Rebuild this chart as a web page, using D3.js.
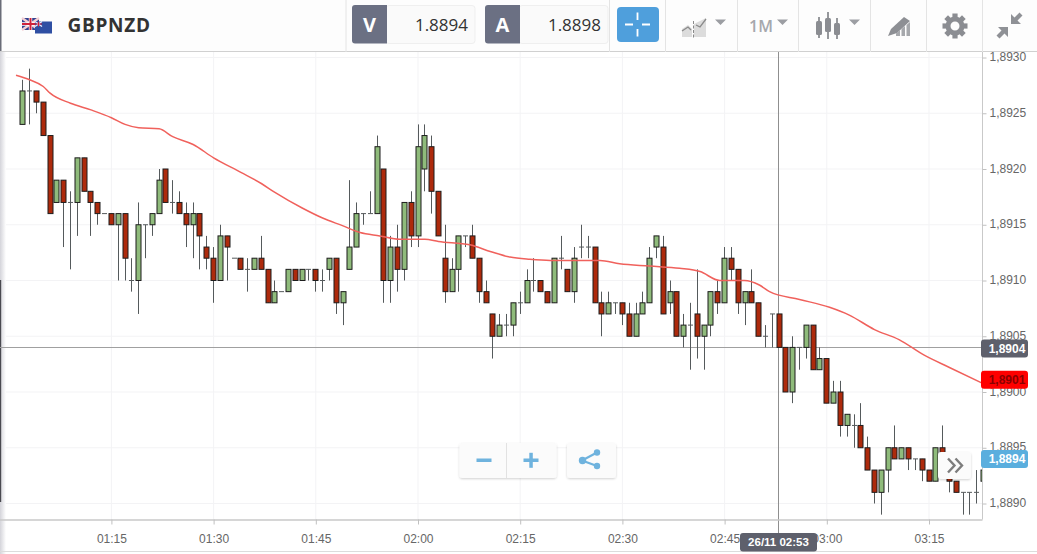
<!DOCTYPE html>
<html><head><meta charset="utf-8">
<script src="https://cdn.jsdelivr.net/npm/d3@7"></script>
<style>html,body{margin:0;padding:0;background:#fff;overflow:hidden}svg{display:block}</style>
</head><body><svg id="c" width="1037" height="554"></svg>
<script>
const symbol="GBPNZD";
const bidText="1.8894", askText="1.8898";
const basePrice=1.8890;
const firstMinute=62; // 01:02
// candles, in pips above basePrice
const opens=[34,37,37,36,33,27,29,27,27,31,28,27,26,26,25,26,20,20,25,25,26,30,27,27,26,25,26,23,22,20,24,22,22,21,21,22,21,18,19,19,21,20,21,21,20,21,22,18,21,23,26,26,26,30,20,23,21,27,24,30,32,28,22,19,21,24,24,22,19,17,15,16,16,18,18,20,20,19,18,22,21,19,23,23,23,18,17,18,18,17,15,17,18,23,23,18,19,15,16,17,15,16,19,18,22,21,18,19,18,15,17,17,14,10,14,14,16,12,13,9,10,7,7,7,5,3,1,3,5,4,5,4,4,3,2,5,4,2,1,1,1,2];
const highs=[38,39,37,36,33,29,29,28,31,31,28,27,26,26,26,26,22,27,25,26,30,30,29,28,27,27,26,24,23,25,24,22,22,22,22,24,21,20,19,21,21,21,21,21,21,22,22,19,29,27,26,28,33,30,24,25,27,28,34,34,33,28,25,22,24,24,25,22,20,17,17,17,18,19,21,22,20,19,22,24,21,23,25,24,23,19,19,18,18,18,18,19,23,24,24,20,19,17,18,21,16,19,20,23,23,21,19,21,18,16,17,17,14,15,14,16,16,14,13,11,11,8,8,9,6,3,3,5,7,5,5,4,4,3,5,7,4,2,1,1,3,3];
const lows=[34,34,35,33,26,27,23,21,24,28,24,25,26,25,20,20,19,17,22,24,26,27,26,26,23,22,21,21,18,20,20,22,21,19,21,21,18,18,19,19,20,20,20,19,19,20,17,16,21,23,25,26,26,18,18,19,20,23,23,28,26,24,18,19,19,23,22,18,18,13,15,15,15,17,18,19,19,18,18,21,19,18,22,22,18,15,17,17,16,15,15,17,18,22,17,17,15,14,12,13,12,15,17,18,20,17,16,18,15,14,14,14,10,9,12,13,12,12,9,9,6,6,5,5,3,0,-1,1,4,4,3,3,2,2,2,4,1,1,-1,-1,0,2];
const closes=[37,37,36,33,26,29,27,27,31,28,27,26,26,25,26,22,20,25,25,26,29,27,27,26,25,26,24,22,20,24,23,22,21,21,22,21,18,19,19,21,20,21,21,20,20,22,18,19,23,26,26,26,32,20,23,21,27,24,32,33,28,24,19,21,24,24,22,19,18,15,16,16,18,18,20,20,19,18,22,22,19,22,23,23,18,17,18,18,17,15,17,18,22,24,17,19,15,16,16,15,16,19,18,22,21,18,19,18,15,15,17,14,10,14,14,16,12,13,9,10,7,8,7,5,3,1,3,5,4,5,4,4,3,2,5,4,2,1,1,1,1,3];
// moving-average line
const maMinutes=[61,63,65,66,69,72,75,77,79,82,84,87,90,94,97,99,103,106,109,111.5,114.4,117.3,121,123,127.6,130.6,133.5,136.4,139.4,143.8,146.7,149.6,154,158.4,161.4,164.3,167.9,170.1,171.6,176,180.4,183.3,187,190.6,194.3,198,202.8];
const maPrices=[1.89284,1.89280,1.89274,1.89268,1.89259,1.89253,1.89246,1.89240,1.89237,1.89236,1.89229,1.89222,1.89210,1.89197,1.89187,1.89179,1.89165,1.89156,1.89149,1.89143,1.89140,1.89137,1.89137,1.89135,1.89132,1.89126,1.89121,1.89119,1.89118,1.89118,1.89118,1.89115,1.89113,1.89111,1.89108,1.89100,1.89100,1.89096,1.89090,1.89083,1.89076,1.89069,1.89056,1.89047,1.89033,1.89022,1.89008];
const xTickMinutes=[75,90,105,120,135,150,165,180,195];
const xTickLabels=["01:15","01:30","01:45","02:00","02:15","02:30","02:45","03:00","03:15"];
const yTicks=[1.8890,1.8895,1.8900,1.8905,1.8910,1.8915,1.8920,1.8925,1.8930];
const crossMinute=173, crossPrice=1.89040;
const priceFlags=[{v:"1,8904",p:1.89039,c:"#5e606c",t:"#fff"},{v:"1,8901",p:1.89011,c:"#ff0000",t:"#8a0000"},{v:"1,8894",p:1.88940,c:"#5aaede",t:"#fff"}];
const crossLabel="26/11 02:53";

const svg=d3.select("#c");
const plotL=1,plotR=982.5,plotT=52,plotB=519.5;
const x=d3.scaleLinear().domain([75,195]).range([111.4,929]);
const y=d3.scaleLinear().domain([1.8890,1.8930]).range([503.5,57.5]);
const pips=p=>basePrice+p*0.0001;
const sans="'Liberation Sans',Arial,sans-serif", open="'Open Sans',sans-serif";

svg.append("rect").attr("width",1037).attr("height",554).attr("fill","#fff");
const defs=svg.append("defs");
defs.append("clipPath").attr("id","plot").append("rect").attr("x",plotL).attr("y",plotT).attr("width",plotR-plotL).attr("height",plotB-plotT);
const sh=defs.append("filter").attr("id","sh").attr("x","-20%").attr("y","-20%").attr("width","140%").attr("height","150%");
sh.append("feDropShadow").attr("dx",0).attr("dy",1).attr("stdDeviation",1).attr("flood-color","#000").attr("flood-opacity",.18);
const lg=defs.append("linearGradient").attr("id","edge");
lg.append("stop").attr("offset",0).attr("stop-color","#d4d4da");
lg.append("stop").attr("offset",1).attr("stop-color","#fff");

// grid
svg.append("g").selectAll("line").data(xTickMinutes).join("line")
 .attr("x1",d=>x(d)).attr("x2",d=>x(d)).attr("y1",plotT).attr("y2",plotB).attr("stroke","#f3f3f5");
svg.append("g").selectAll("line").data(yTicks).join("line")
 .attr("x1",plotL).attr("x2",plotR).attr("y1",d=>y(d)).attr("y2",d=>y(d)).attr("stroke","#f3f3f5");

// left window edge
svg.append("rect").attr("x",0).attr("y",52).attr("width",6).attr("height",502).attr("fill","url(#edge)");
svg.append("rect").attr("x",0).attr("y",280).attr("width",1.2).attr("height",222).attr("fill","#4a4a50");

// crosshair
const crossX=Math.floor(x(crossMinute))-.5, crossY=Math.floor(y(crossPrice))+.5;
svg.append("line").attr("x1",0).attr("x2",plotR).attr("y1",crossY).attr("y2",crossY).attr("stroke","#a0a0a0");
svg.append("line").attr("x1",crossX).attr("x2",crossX).attr("y1",plotT).attr("y2",plotB+14).attr("stroke","#8f8f8f");

// candles
const plot=svg.append("g").attr("clip-path","url(#plot)");
const idx=d3.range(opens.length);
const cx=i=>Math.floor(x(firstMinute+i))+.5;
plot.append("g").selectAll("line").data(idx).join("line")
 .attr("x1",cx).attr("x2",cx).attr("y1",i=>y(pips(highs[i]))).attr("y2",i=>y(pips(lows[i])))
 .attr("stroke","#555a5c").attr("stroke-width",1);
const bodies=idx.filter(i=>opens[i]!==closes[i]);
plot.append("g").selectAll("rect").data(bodies).join("rect")
 .attr("x",i=>cx(i)-2.5).attr("width",5)
 .attr("y",i=>y(pips(Math.max(opens[i],closes[i]))))
 .attr("height",i=>Math.abs(y(pips(opens[i]))-y(pips(closes[i]))))
 .attr("fill",i=>closes[i]>opens[i]?"#8fbb7b":"#ad2a0c")
 .attr("stroke","#1d1d1d").attr("stroke-width",1);
const dojis=idx.filter(i=>opens[i]===closes[i]);
plot.append("g").selectAll("line").data(dojis).join("line")
 .attr("x1",i=>cx(i)-2.5).attr("x2",i=>cx(i)+2.5)
 .attr("y1",i=>y(pips(opens[i]))).attr("y2",i=>y(pips(opens[i])))
 .attr("stroke","#555a5c");

// moving average
plot.append("path").datum(maMinutes)
 .attr("fill","none").attr("stroke","#f0615c").attr("stroke-width",1.5)
 .attr("d",d3.line().x(d=>x(d)).y((d,i)=>y(maPrices[i])).curve(d3.curveMonotoneX));

// axes
svg.append("line").attr("x1",plotR).attr("x2",plotR).attr("y1",plotT).attr("y2",plotB).attr("stroke","#c9c9c9");
svg.append("line").attr("x1",0).attr("x2",plotR).attr("y1",plotB+.5).attr("y2",plotB+.5).attr("stroke","#c9c9c9").attr("stroke-width",1.5);
const yg=svg.append("g").attr("transform",`translate(${plotR},0)`)
 .call(d3.axisRight(y).tickValues(yTicks).tickSize(4).tickPadding(3).tickFormat(d=>d3.format(".4f")(d).replace(".",",")));
yg.select(".domain").remove();
yg.selectAll("line").attr("stroke","#c0c0c0");
yg.selectAll("text").attr("font-family",sans).attr("font-size",12).attr("fill","#666").attr("dy","0.26em");
const xg=svg.append("g").attr("transform",`translate(0,${plotB})`)
 .call(d3.axisBottom(x).tickValues(xTickMinutes).tickSize(5).tickPadding(10).tickFormat((d,i)=>xTickLabels[i]));
xg.select(".domain").remove();
xg.selectAll("line").attr("stroke","#c0c0c0");
xg.selectAll("text").attr("font-family",sans).attr("font-size",12).attr("fill","#666");
svg.append("line").attr("x1",0).attr("x2",1037).attr("y1",551.5).attr("y2",551.5).attr("stroke","#dcdcdc");

// price flags
const fl=svg.append("g").selectAll("g").data(priceFlags).join("g");
fl.append("rect").attr("x",981).attr("width",47).attr("height",18).attr("rx",3)
 .attr("y",d=>y(d.p)-9).attr("fill",d=>d.c);
fl.append("text").attr("x",1007).attr("y",d=>y(d.p)+4.5).attr("text-anchor","middle")
 .attr("font-family",sans).attr("font-size",12).attr("font-weight","bold").attr("fill",d=>d.t).text(d=>d.v);
// crosshair time label
svg.append("rect").attr("x",740).attr("y",533).attr("width",77).attr("height",18.5).attr("rx",3).attr("fill","#5e606c");
svg.append("text").attr("x",778.5).attr("y",546).attr("text-anchor","middle").attr("font-family",sans).attr("font-size",11.5).attr("font-weight","bold").attr("fill","#fff").text(crossLabel);

// floating controls
const btn=(X,Y,W,H)=>svg.append("rect").attr("x",X).attr("y",Y).attr("width",W).attr("height",H).attr("rx",3).attr("fill","#fbfbfb").attr("filter","url(#sh)");
btn(459.5,443,97,35);
svg.append("line").attr("x1",506.5).attr("x2",506.5).attr("y1",443).attr("y2",478).attr("stroke","#e2e2e2");
const blue="#6fb3de";
svg.append("rect").attr("x",476.5).attr("y",458.5).attr("width",15).attr("height",3.5).attr("fill",blue);
svg.append("rect").attr("x",523.5).attr("y",458.5).attr("width",15).attr("height",3.5).attr("fill",blue);
svg.append("rect").attr("x",529.3).attr("y",452.8).attr("width",3.5).attr("height",15).attr("fill",blue);
btn(567,443,49,35);
svg.append("path").attr("d","M582 460.5L597 452.5M582 460.5L597 466").attr("stroke",blue).attr("stroke-width",2.2);
[[582.5,460.5,3.7],[597,452.5,3.2],[597,466,3.2]].forEach(c=>svg.append("circle").attr("cx",c[0]).attr("cy",c[1]).attr("r",c[2]).attr("fill",blue));
btn(938,452,33,27);
svg.append("path").attr("d","M948 458.5L954.5 465.5L948 472.5M955.5 458.5L962 465.5L955.5 472.5").attr("fill","none").attr("stroke","#7d7d7d").attr("stroke-width",2.4);

// toolbar
const tb=svg.append("g");
tb.append("rect").attr("width",1037).attr("height",51).attr("fill","#fdfdfd");
tb.append("line").attr("x1",0).attr("x2",1037).attr("y1",51.5).attr("y2",51.5).attr("stroke","#d0d0d0");
tb.append("rect").attr("width",1.5).attr("height",51).attr("fill","#6a6d78");
[345.5,609,665,737,798,870,926,982].forEach(X=>tb.append("line").attr("x1",X+.5).attr("x2",X+.5).attr("y1",0).attr("y2",52).attr("stroke","#e4e4e4"));
// flags
tb.append("rect").attr("x",22).attr("y",18).attr("width",17).attr("height",12).attr("fill","#33418f");
tb.append("path").attr("d","M22 18L39 30M39 18L22 30").attr("stroke","#f4d0d4").attr("stroke-width",2.4);
tb.append("path").attr("d","M30.5 18V30M22 24H39").attr("stroke","#fff").attr("stroke-width",3.4);
tb.append("path").attr("d","M30.5 18V30M22 24H39").attr("stroke","#d0213a").attr("stroke-width",2);
tb.append("rect").attr("x",35).attr("y",21.5).attr("width",17).attr("height",12).attr("fill","#2f4fa3");
tb.append("path").attr("d","M35 21.5L42 26.5M42 21.5L35 26.5").attr("stroke","#eef").attr("stroke-width",1.4);
tb.append("path").attr("d","M38.5 21.5V26.5M35 24H42").attr("stroke","#d0213a").attr("stroke-width",1);
tb.append("text").attr("x",67.5).attr("y",31.5).attr("font-family",open).attr("font-weight",700).attr("font-size",19).attr("letter-spacing",.7).attr("fill","#333").text(symbol);
// quote boxes
const quote=(X,l,v,e)=>{
 tb.append("rect").attr("x",X+34).attr("y",5.5).attr("width",e-X-34).attr("height",38).attr("rx",3).attr("fill","#fafafa").attr("stroke","#efefef");
 tb.append("path").attr("d",`M${X+3} 5H${X+35}V43.5H${X+3}a3 3 0 0 1 -3 -3V8a3 3 0 0 1 3 -3z`).attr("fill","#6b7083");
 tb.append("text").attr("x",X+17.5).attr("y",31.5).attr("text-anchor","middle").attr("font-family",open).attr("font-weight",700).attr("font-size",20).attr("fill","#fff").text(l);
 tb.append("text").attr("x",e-7).attr("y",31).attr("text-anchor","end").attr("font-family",open).attr("font-size",17).attr("fill","#333").text(v);
};
quote(352,"V",bidText,475);
quote(485,"A",askText,608);
// crosshair button
tb.append("rect").attr("x",617).attr("y",7).attr("width",42).attr("height",35).attr("rx",4).attr("fill","#4f9fdc");
tb.append("path").attr("d","M637.5 12.5V20M637.5 29V36.5M625 24.5H633M642 24.5H650").attr("stroke","#fff").attr("stroke-width",1.8);
// chart-type icons
const g2="#8b8d92";
tb.append("path").attr("d","M682 37V29L688 25L692 29V37ZM694 37V24L706 18V37Z").attr("fill","#dcdcdc");
tb.append("path").attr("d","M682 31L688 27L691 30M696 25L700 27L706 19").attr("fill","none").attr("stroke","#8a8a8a").attr("stroke-width",1.3);
tb.append("line").attr("x1",693.5).attr("x2",693.5).attr("y1",21).attr("y2",38).attr("stroke","#8a8a8a").attr("stroke-dasharray","3 1.5");
tb.append("path").attr("d","M715 19.5H726L720.5 25ZM777 19.5H788L782.5 25ZM849 19.5H860L854.5 25Z").attr("fill","#9c9ea3");
tb.append("text").attr("x",749).attr("y",32).attr("font-family",open).attr("font-weight",600).attr("font-size",16).attr("fill","#a6a8ad").text("1M");
[[819,17,38,21,35],[828,12,39,18,32],[837,18,39,23,35]].forEach(a=>{
 tb.append("rect").attr("x",a[0]-.9).attr("y",a[1]).attr("width",1.8).attr("height",a[2]-a[1]).attr("fill",g2);
 tb.append("rect").attr("x",a[0]-3).attr("y",a[3]).attr("width",6).attr("height",a[4]-a[3]).attr("rx",1.5).attr("fill",g2);
});
tb.append("path").attr("d","M888 36L891 29L904 17L910 21L897 33Z").attr("fill","#8d8f94");
tb.append("path").attr("d","M896 36V33.5L900 30V36ZM901.5 36V29L905 26V36ZM906.5 36V25L910 22V36Z").attr("fill","#a6a8ac");
// gear
const gear=tb.append("g").attr("transform","translate(955,26)");
d3.range(8).forEach(i=>gear.append("rect").attr("x",-2.6).attr("y",-12.5).attr("width",5.2).attr("height",6).attr("fill",g2).attr("transform",`rotate(${i*45})`));
gear.append("circle").attr("r",7).attr("fill","none").attr("stroke",g2).attr("stroke-width",5);
// compress
tb.append("path").attr("d","M1011 24V14L1014.5 17.5L1019.5 12.5L1022.5 15.5L1017.5 20.5L1021 24Z").attr("fill","#8f9196");
tb.append("path").attr("d","M1008 27V37L1004.5 33.5L999.5 38.5L996.5 35.5L1001.5 30.5L998 27Z").attr("fill","#8f9196");
</script></body></html>
